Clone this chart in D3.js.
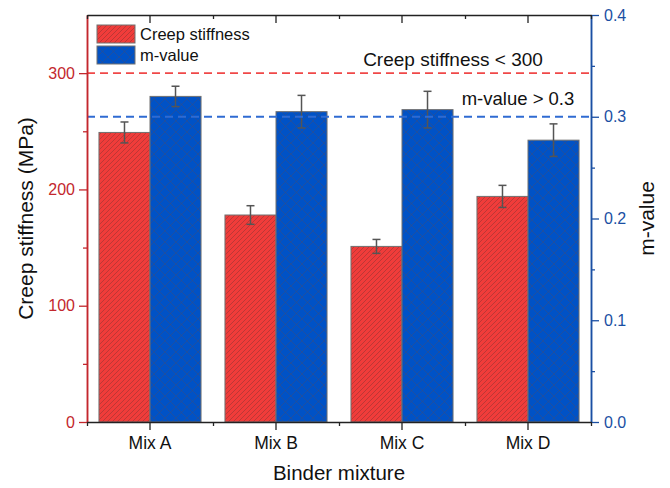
<!DOCTYPE html>
<html>
<head>
<meta charset="utf-8">
<script src="https://cdn.jsdelivr.net/npm/d3@7"></script>
<style>
  html, body { margin: 0; padding: 0; background: #fff; }
  svg { display: block; font-family: Arial, "Liberation Sans", sans-serif; }
</style>
</head>
<body>
<svg id="chart" width="670" height="488"></svg>
<script>
// Binder mixtures and their measured properties
const categories = ["Mix A", "Mix B", "Mix C", "Mix D"];
const stiffness = [249, 178, 151, 194];        // MPa
const stiffnessErr = [9, 8, 6, 9.5];
const mValue = [0.320, 0.305, 0.307, 0.277];
const mValueErr = [0.010, 0.016, 0.018, 0.016];

const stiffnessTicks = [0, 100, 200, 300];
const mValueTicks = [0.0, 0.1, 0.2, 0.3, 0.4];
const stiffnessLimit = 300;
const mValueLimit = 0.3;

const seriesNames = ["Creep stiffness", "m-value"];

const W = 670, H = 488;
const margin = { top: 15, right: 79, bottom: 66, left: 87 };
const x0 = margin.left, x1 = W - margin.right;
const y0 = H - margin.bottom, y1 = margin.top;

const RED = "#F03C3A", BLUE = "#0052C6";
const RED_AXIS = "#C3272D", BLUE_AXIS = "#1A4FA3";
const FONT = "Arial, 'Liberation Sans', sans-serif";

const svg = d3.select("#chart");
const defs = svg.append("defs");

// Diagonal hatching for stiffness bars
const hatch = defs.append("pattern")
  .attr("id", "hatchRed").attr("patternUnits", "userSpaceOnUse")
  .attr("width", 5).attr("height", 5);
hatch.append("rect").attr("width", 5).attr("height", 5).attr("fill", RED);
hatch.append("path").attr("d", "M0,5 L5,0 M-1,1 L1,-1 M4,6 L6,4")
  .attr("stroke", "rgba(90,45,45,0.5)").attr("stroke-width", 0.7);

// Cross hatching for m-value bars
const cross = defs.append("pattern")
  .attr("id", "hatchBlue").attr("patternUnits", "userSpaceOnUse")
  .attr("width", 11).attr("height", 11);
cross.append("rect").attr("width", 11).attr("height", 11).attr("fill", BLUE);
cross.append("path").attr("d", "M0,0 L11,11 M11,0 L0,11")
  .attr("stroke", "rgba(75,75,105,0.6)").attr("stroke-width", 0.7);

const fills = ["url(#hatchRed)", "url(#hatchBlue)"];

// Scales
const xBand = d3.scaleBand().domain(categories).range([x0, x1])
  .paddingInner(0.19).paddingOuter(0.095);
const xSub = d3.scaleBand().domain(seriesNames).range([0, xBand.bandwidth()]);
const yL = d3.scaleLinear().domain([0, 350]).range([y0, y1]);
const yR = d3.scaleLinear().domain([0, 0.4]).range([y0, y1]);

const rows = categories.map((c, i) => ({
  cat: c,
  vals: [
    { s: 0, v: stiffness[i], e: stiffnessErr[i], y: yL },
    { s: 1, v: mValue[i], e: mValueErr[i], y: yR }
  ]
}));

// Bars
const g = svg.append("g");
const groups = g.selectAll("g.grp").data(rows).join("g")
  .attr("transform", d => `translate(${xBand(d.cat)},0)`);
groups.selectAll("rect").data(d => d.vals).join("rect")
  .attr("x", d => xSub(seriesNames[d.s]))
  .attr("width", xSub.bandwidth())
  .attr("y", d => d.y(d.v))
  .attr("height", d => y0 - d.y(d.v))
  .attr("fill", d => fills[d.s])
  .attr("stroke", "#707070").attr("stroke-width", 1);

// Error bars
const eb = groups.selectAll("g.err").data(d => d.vals).join("g")
  .attr("stroke", "#555").attr("stroke-width", 1.5)
  .attr("transform", d => `translate(${xSub(seriesNames[d.s]) + xSub.bandwidth() / 2},0)`);
eb.append("line").attr("x1", 0).attr("x2", 0)
  .attr("y1", d => d.y(d.v - d.e)).attr("y2", d => d.y(d.v + d.e));
eb.append("line").attr("x1", -4).attr("x2", 4)
  .attr("y1", d => d.y(d.v + d.e)).attr("y2", d => d.y(d.v + d.e));
eb.append("line").attr("x1", -4).attr("x2", 4)
  .attr("y1", d => d.y(d.v - d.e)).attr("y2", d => d.y(d.v - d.e));

// Threshold lines
svg.append("line").attr("x1", x0).attr("x2", x1)
  .attr("y1", yL(stiffnessLimit)).attr("y2", yL(stiffnessLimit))
  .attr("stroke", "#F04848").attr("stroke-width", 1.8).attr("stroke-dasharray", "8,5");
svg.append("line").attr("x1", x0).attr("x2", x1)
  .attr("y1", yR(mValueLimit)).attr("y2", yR(mValueLimit))
  .attr("stroke", "#2F6BD2").attr("stroke-width", 1.8).attr("stroke-dasharray", "8,5");

svg.append("text").attr("x", 453).attr("y", 66).attr("text-anchor", "middle")
  .attr("font-size", 19).attr("fill", "#111").text("Creep stiffness < 300");
svg.append("text").attr("x", 518).attr("y", 105).attr("text-anchor", "middle")
  .attr("font-size", 18.5).attr("fill", "#111").text("m-value > 0.3");

// Axes
function styleAxis(sel, color) {
  sel.select(".domain").attr("stroke", color).attr("stroke-width", 1.5);
  sel.selectAll(".tick line").attr("stroke", color).attr("stroke-width", 1.3);
  sel.selectAll(".tick text").attr("fill", color).attr("font-size", 16)
    .attr("font-family", FONT);
}

// Left axis (stiffness)
const leftMinor = svg.append("g").attr("transform", `translate(${x0},0)`)
  .call(d3.axisLeft(yL).tickValues([50, 150, 250]).tickSize(4).tickFormat("").tickSizeOuter(0));
styleAxis(leftMinor, RED_AXIS);
const leftAx = svg.append("g").attr("transform", `translate(${x0},0)`)
  .call(d3.axisLeft(yL).tickValues(stiffnessTicks).tickSize(8).tickPadding(4).tickSizeOuter(0));
styleAxis(leftAx, RED_AXIS);

// Right axis (m-value)
const rightMinor = svg.append("g").attr("transform", `translate(${x1},0)`)
  .call(d3.axisRight(yR).tickValues([0.05, 0.15, 0.25, 0.35]).tickSize(4).tickFormat("").tickSizeOuter(0));
styleAxis(rightMinor, BLUE_AXIS);
const rightAx = svg.append("g").attr("transform", `translate(${x1},0)`)
  .call(d3.axisRight(yR).tickValues(mValueTicks).tickSize(8).tickPadding(5)
    .tickFormat(d3.format(".1f")).tickSizeOuter(0));
styleAxis(rightAx, BLUE_AXIS);

// Bottom and top axes with minor ticks on category boundaries
const boundaries = d3.range(categories.length + 1).map(i => x0 + i * xBand.step());
const xLin = d3.scaleLinear().domain([x0, x1]).range([x0, x1]);

function catAxis(y, dir) {
  const major = svg.append("g").attr("transform", `translate(0,${y})`)
    .call((dir > 0 ? d3.axisBottom(xBand) : d3.axisTop(xBand))
      .tickSize(dir > 0 ? 8 : -8).tickPadding(7).tickSizeOuter(0));
  major.select(".domain").attr("stroke", "#222").attr("stroke-width", 1.5);
  major.selectAll(".tick line").attr("stroke", "#222").attr("stroke-width", 1.3);
  major.selectAll(".tick text").attr("fill", "#111").attr("font-size", 17.5)
    .attr("font-family", FONT);
  if (dir < 0) major.selectAll(".tick text").remove();
  const minor = svg.append("g").attr("transform", `translate(0,${y})`)
    .call((dir > 0 ? d3.axisBottom(xLin) : d3.axisTop(xLin))
      .tickValues(boundaries).tickSize(dir > 0 ? 4 : -4).tickFormat("").tickSizeOuter(0));
  minor.select(".domain").remove();
  minor.selectAll(".tick line").attr("stroke", "#222").attr("stroke-width", 1.3);
}
catAxis(y0, 1);
catAxis(y1, -1);

// Axis titles
svg.append("text").attr("transform", `translate(33,${(y0 + y1) / 2}) rotate(-90)`)
  .attr("text-anchor", "middle").attr("font-size", 21).attr("fill", "#111")
  .text("Creep stiffness (MPa)");
svg.append("text").attr("transform", `translate(654,${(y0 + y1) / 2}) rotate(-90)`)
  .attr("text-anchor", "middle").attr("font-size", 21).attr("fill", "#111")
  .text("m-value");
svg.append("text").attr("x", (x0 + x1) / 2).attr("y", 480)
  .attr("text-anchor", "middle").attr("font-size", 20.5).attr("fill", "#111")
  .text("Binder mixture");

// Legend
const legend = svg.append("g").attr("transform", "translate(97,25)");
seriesNames.forEach((name, i) => {
  const row = legend.append("g").attr("transform", `translate(0,${i * 21})`);
  row.append("rect").attr("width", 38).attr("height", 18)
    .attr("fill", fills[i]).attr("stroke", "#707070").attr("stroke-width", 1);
  row.append("text").attr("x", 43).attr("y", 15).attr("font-size", 16.5)
    .attr("fill", "#111").text(name);
});
</script>
</body>
</html>
